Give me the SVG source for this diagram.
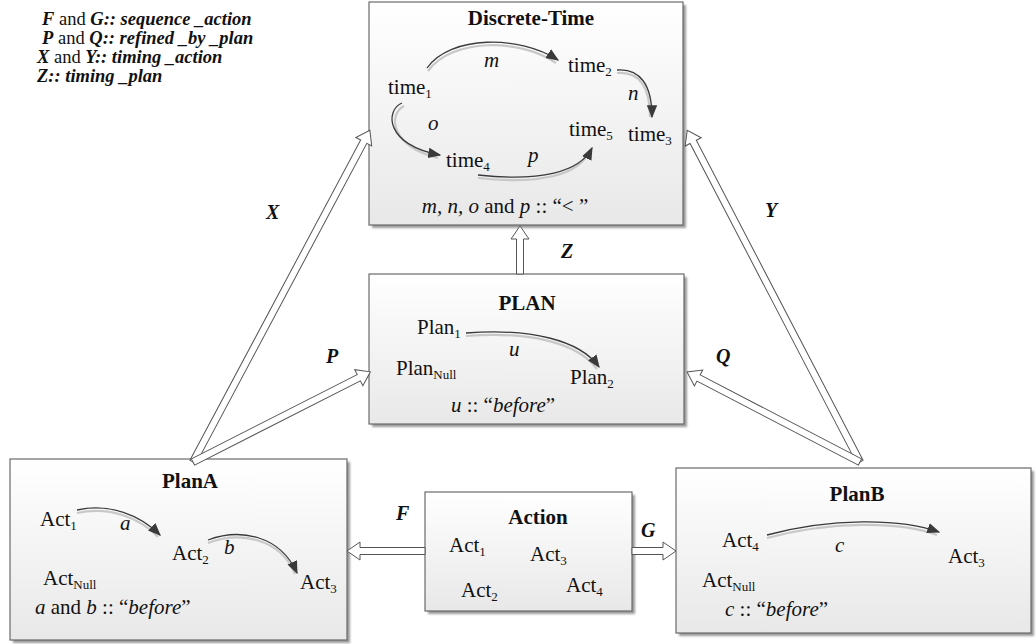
<svg xmlns="http://www.w3.org/2000/svg" width="1036" height="644" viewBox="0 0 1036 644">
  <style>
    text { font-family: "Liberation Serif", "Times New Roman", serif; fill: #111; }
    .t { font-size: 21px; }
    .title { font-size: 21px; font-weight: bold; }
    .it { font-style: italic; }
    .bi { font-style: italic; font-weight: bold; }
    .lbl { font-size: 20px; font-style: italic; font-weight: bold; }
    .leg { font-size: 18.5px; }
    .sub { font-size: 13px; }
    .box { fill: url(#boxFill); stroke: #6a6a6a; stroke-width: 1.2; }
    .shadow { fill: #9a9a9a; filter: url(#soft); }
    .blk { fill: #ffffff; stroke: #555; stroke-width: 1; stroke-linejoin: miter; }
    .curve { fill: none; stroke: #3a3a3a; stroke-width: 1.3; marker-end: url(#tip); }
    .curveShade { fill: none; stroke: #c8c8c8; stroke-width: 2.2; }
  </style>
  <defs>
    <linearGradient id="boxFill" x1="0" y1="0" x2="0" y2="1">
      <stop offset="0" stop-color="#ffffff"/>
      <stop offset="1" stop-color="#e8e8e8"/>
    </linearGradient>
    <filter id="soft" x="-5%" y="-5%" width="110%" height="110%">
      <feGaussianBlur stdDeviation="1.2"/>
    </filter>
    <marker id="tip" viewBox="0 0 10 10" refX="9" refY="5" markerWidth="13" markerHeight="13" markerUnits="userSpaceOnUse" orient="auto">
      <path d="M0,1 L10,5 L0,9 Z" fill="#3a3a3a"/>
    </marker>
  </defs>

  <!-- legend -->
  <g id="legend" class="leg">
    <text x="42" y="25"><tspan class="bi">F</tspan> and <tspan class="bi">G:: sequence _action</tspan></text>
    <text x="42" y="44"><tspan class="bi">P</tspan> and <tspan class="bi">Q:: refined _by _plan</tspan></text>
    <text x="37" y="63"><tspan class="bi">X</tspan> and <tspan class="bi">Y:: timing _action</tspan></text>
    <text x="37" y="82"><tspan class="bi">Z:: timing _plan</tspan></text>
  </g>

  <!-- Discrete-Time -->
  <g id="discrete-time">
    <rect class="shadow" x="372" y="5" width="314" height="223"/>
    <rect class="box" x="369" y="2" width="314" height="223"/>
    <text class="title" x="531" y="25" text-anchor="middle">Discrete-Time</text>
    <path class="curveShade" d="M428,71 C452,38 520,38 556,63"/>
    <path class="curve" d="M427,68 C450,35 520,35 558,60"/>
    <path class="curveShade" d="M617,73 C640,71 650,88 650,117"/>
    <path class="curve" d="M617,70 C640,68 652,85 652,117"/>
    <path class="curveShade" d="M404,106 C388,114 390,146 438,158"/>
    <path class="curve" d="M402,103 C385,110 385,145 440,155"/>
    <path class="curveShade" d="M478,178 C540,185 580,175 590,150"/>
    <path class="curve" d="M478,175 C540,182 580,172 592,148"/>
    <text class="t" x="388" y="94">time<tspan class="sub" dy="4">1</tspan></text>
    <text class="t it" x="484" y="67">m</text>
    <text class="t" x="568" y="72">time<tspan class="sub" dy="4">2</tspan></text>
    <text class="t it" x="628" y="100">n</text>
    <text class="t it" x="428" y="130">o</text>
    <text class="t" x="569" y="136">time<tspan class="sub" dy="4">5</tspan></text>
    <text class="t" x="628" y="141">time<tspan class="sub" dy="4">3</tspan></text>
    <text class="t" x="446" y="167">time<tspan class="sub" dy="4">4</tspan></text>
    <text class="t it" x="528" y="162">p</text>
    <text class="t" x="505" y="213" text-anchor="middle"><tspan class="it">m, n, o</tspan> and <tspan class="it">p</tspan> :: “&lt; ”</text>
  </g>

  <!-- PLAN -->
  <g id="plan">
    <rect class="shadow" x="372" y="277" width="315" height="150"/>
    <rect class="box" x="369" y="274" width="315" height="150"/>
    <text class="title" x="527" y="310" text-anchor="middle">PLAN</text>
    <path class="curveShade" d="M466,336 C530,331 578,343 597,369"/>
    <path class="curve" d="M466,333 C530,328 580,340 599,367"/>
    <text class="t" x="417" y="334">Plan<tspan class="sub" dy="4">1</tspan></text>
    <text class="t it" x="509" y="356">u</text>
    <text class="t" x="396" y="375">Plan<tspan class="sub" dy="4">Null</tspan></text>
    <text class="t" x="570" y="384">Plan<tspan class="sub" dy="4">2</tspan></text>
    <text class="t" x="503" y="412" text-anchor="middle"><tspan class="it">u</tspan> :: “<tspan class="it">before</tspan>”</text>
  </g>

  <!-- PlanA -->
  <g id="plan-a">
    <rect class="shadow" x="13" y="462" width="337" height="181"/>
    <rect class="box" x="10" y="459" width="337" height="181"/>
    <text class="title" x="190" y="488" text-anchor="middle">PlanA</text>
    <path class="curveShade" d="M77,513 C110,506 140,518 158,537"/>
    <path class="curve" d="M77,510 C110,503 140,515 160,535"/>
    <path class="curveShade" d="M208,543 C240,531 280,538 295,574"/>
    <path class="curve" d="M208,540 C240,528 280,535 297,573"/>
    <text class="t" x="40" y="526">Act<tspan class="sub" dy="4">1</tspan></text>
    <text class="t it" x="120" y="530">a</text>
    <text class="t" x="172" y="560">Act<tspan class="sub" dy="4">2</tspan></text>
    <text class="t it" x="224" y="554">b</text>
    <text class="t" x="43" y="585">Act<tspan class="sub" dy="4">Null</tspan></text>
    <text class="t" x="300" y="589">Act<tspan class="sub" dy="4">3</tspan></text>
    <text class="t" x="35" y="614"><tspan class="it">a</tspan> and <tspan class="it">b</tspan> :: “<tspan class="it">before</tspan>”</text>
  </g>

  <!-- Action -->
  <g id="action">
    <rect class="shadow" x="428" y="495" width="207" height="119"/>
    <rect class="box" x="425" y="492" width="207" height="119"/>
    <text class="title" x="538" y="524" text-anchor="middle">Action</text>
    <text class="t" x="449" y="552">Act<tspan class="sub" dy="4">1</tspan></text>
    <text class="t" x="530" y="561">Act<tspan class="sub" dy="4">3</tspan></text>
    <text class="t" x="461" y="597">Act<tspan class="sub" dy="4">2</tspan></text>
    <text class="t" x="566" y="592">Act<tspan class="sub" dy="4">4</tspan></text>
  </g>

  <!-- PlanB -->
  <g id="plan-b">
    <rect class="shadow" x="679" y="471" width="355" height="165"/>
    <rect class="box" x="676" y="468" width="355" height="165"/>
    <text class="title" x="857" y="501" text-anchor="middle">PlanB</text>
    <path class="curveShade" d="M767,538 C830,521 900,521 937,535"/>
    <path class="curve" d="M767,535 C830,518 900,518 939,532"/>
    <text class="t" x="722" y="547">Act<tspan class="sub" dy="4">4</tspan></text>
    <text class="t it" x="835" y="552">c</text>
    <text class="t" x="948" y="563">Act<tspan class="sub" dy="4">3</tspan></text>
    <text class="t" x="702" y="587">Act<tspan class="sub" dy="4">Null</tspan></text>
    <text class="t" x="725" y="616"><tspan class="it">c</tspan> :: “<tspan class="it">before</tspan>”</text>
  </g>

  <!-- connectors: hollow block arrows -->
  <g id="connectors">
    <g transform="translate(193,462) rotate(-61.94)">
      <polygon class="blk" points="0,-3.5 363,-3.5 363,-9 376,0 363,9 363,3.5 0,3.5"/>
    </g>
    <g transform="translate(193,462) rotate(-26.95)">
      <polygon class="blk" points="0,-3.5 186,-3.5 186,-9 199,0 186,9 186,3.5 0,3.5"/>
    </g>
    <g transform="translate(860,462) rotate(-117.52)">
      <polygon class="blk" points="0,-3.5 361,-3.5 361,-9 374,0 361,9 361,3.5 0,3.5"/>
    </g>
    <g transform="translate(860,462) rotate(-152.51)">
      <polygon class="blk" points="0,-3.5 182,-3.5 182,-9 195,0 182,9 182,3.5 0,3.5"/>
    </g>
    <g transform="translate(520,274) rotate(-90)">
      <polygon class="blk" points="0,-3.5 35,-3.5 35,-9 48,0 35,9 35,3.5 0,3.5"/>
    </g>
    <g transform="translate(425,551) rotate(180)">
      <polygon class="blk" points="0,-3.5 65,-3.5 65,-9 78,0 65,9 65,3.5 0,3.5"/>
    </g>
    <g transform="translate(632,551)">
      <polygon class="blk" points="0,-3.5 31,-3.5 31,-9 44,0 31,9 31,3.5 0,3.5"/>
    </g>
  </g>

  <!-- connector labels -->
  <g id="connector-labels" class="lbl">
    <text x="266" y="219">X</text>
    <text x="326" y="363">P</text>
    <text x="561" y="258">Z</text>
    <text x="765" y="217">Y</text>
    <text x="716" y="363">Q</text>
    <text x="396" y="520">F</text>
    <text x="641" y="537">G</text>
  </g>
</svg>
